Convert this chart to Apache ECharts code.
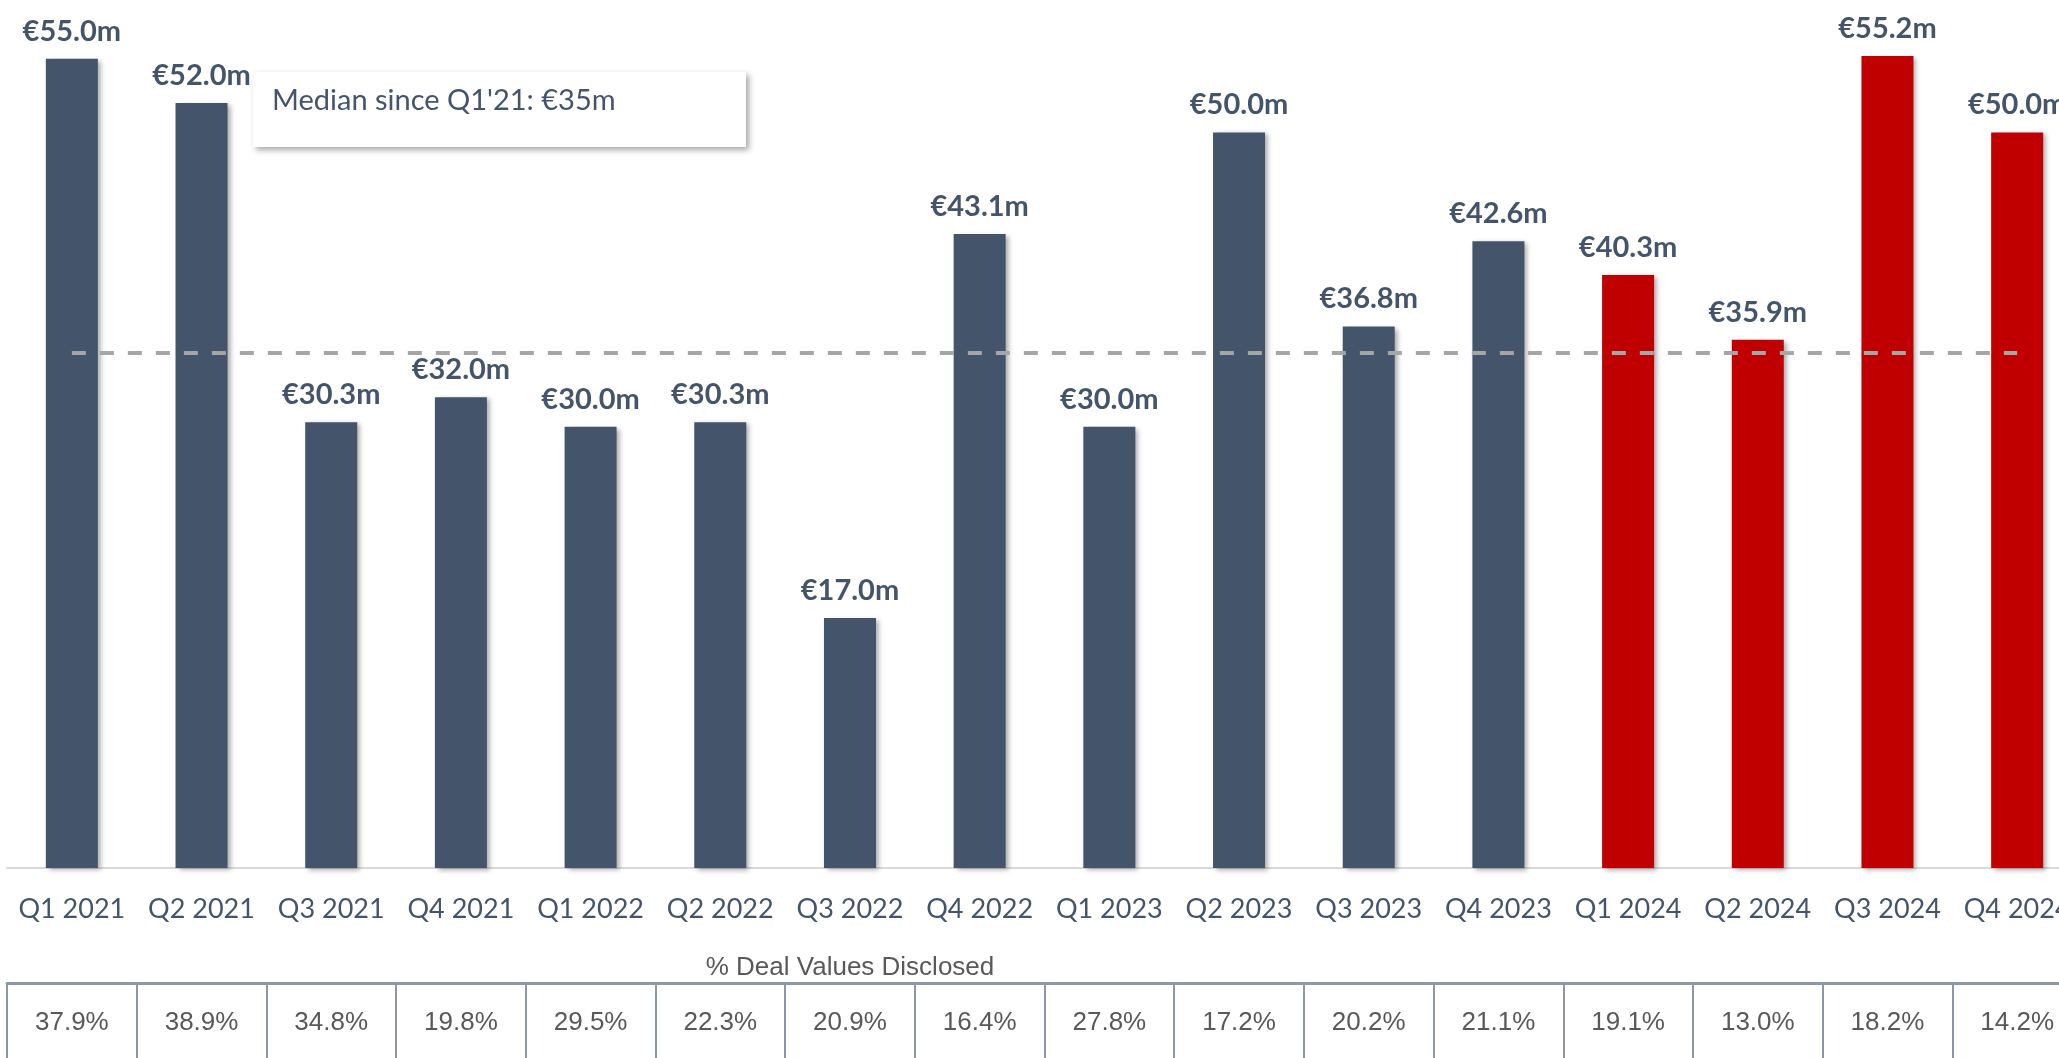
<!DOCTYPE html>
<html>
<head>
<meta charset="utf-8">
<script src="https://cdn.jsdelivr.net/npm/echarts@6/dist/echarts.min.js"></script>
<style>
html,body{margin:0;padding:0;background:#fff;overflow:hidden;width:2059px;height:1058px;}
#chart{width:2100px;height:1058px;}
</style>
</head>
<body>
<div id="chart"></div>
<script>
const categories = ['Q1 2021','Q2 2021','Q3 2021','Q4 2021','Q1 2022','Q2 2022','Q3 2022','Q4 2022','Q1 2023','Q2 2023','Q3 2023','Q4 2023','Q1 2024','Q2 2024','Q3 2024','Q4 2024'];
const medianValues = [55.0, 52.0, 30.3, 32.0, 30.0, 30.3, 17.0, 43.1, 30.0, 50.0, 36.8, 42.6, 40.3, 35.9, 55.2, 50.0];
const disclosedPct = ['37.9%','38.9%','34.8%','19.8%','29.5%','22.3%','20.9%','16.4%','27.8%','17.2%','20.2%','21.1%','19.1%','13.0%','18.2%','14.2%'];
const overallMedian = 35;
const highlightYear = '2024';
const tableTitle = '% Deal Values Disclosed';
const boxText = "Median since Q1'21: €35m";

const NAVY = '#44546a';
const RED = '#c00000';

const chart = echarts.init(document.getElementById('chart'));
chart.setOption({
  animation: false,
  backgroundColor: '#ffffff',
  grid: [
    {left: 7, width: 2075, top: 0, height: 868},
    {left: 7, width: 2075, top: 983, height: 120}
  ],
  xAxis: [
    {
      type: 'category', gridIndex: 0, data: categories,
      axisLine: {show: true, onZero: false, lineStyle: {color: '#d9d9d9', width: 2}},
      axisTick: {show: false},
      axisLabel: {interval: 0, color: NAVY, fontFamily: 'Lato', fontSize: 27, margin: 28}
    },
    {
      type: 'category', gridIndex: 1, data: categories, position: 'top',
      axisLine: {show: true, onZero: false, lineStyle: {color: '#8c98a6', width: 3}},
      axisTick: {show: true, interval: 0, inside: true, length: 120, lineStyle: {color: '#8c98a6', width: 2}},
      axisLabel: {
        interval: 0, inside: true, margin: 40, verticalAlign: 'middle',
        color: '#595959', fontFamily: 'Liberation Sans', fontSize: 26,
        formatter: (v, i) => disclosedPct[i]
      }
    }
  ],
  yAxis: [
    {type: 'value', gridIndex: 0, min: 0, max: 59, show: false, splitLine: {show: false}},
    {type: 'value', gridIndex: 1, min: 0, max: 1, show: false, splitLine: {show: false}}
  ],
  series: [{
    type: 'bar', xAxisIndex: 0, yAxisIndex: 0,
    data: medianValues,
    barWidth: 52,
    itemStyle: {
      color: p => (p.name.indexOf(highlightYear) >= 0 ? RED : NAVY),
      shadowColor: 'rgba(0,0,0,0.35)', shadowBlur: 5, shadowOffsetX: 3, shadowOffsetY: 2
    },
    label: {
      show: true, position: 'top', distance: 13,
      color: NAVY, fontFamily: 'Lato', fontWeight: 'bold', fontSize: 29,
      formatter: p => '€' + p.value.toFixed(1) + 'm'
    },
    markLine: {
      silent: true, symbol: 'none', animation: false,
      lineStyle: {color: '#a6a6a6', width: 4, type: [14, 14]},
      label: {show: false},
      data: [[{coord: [categories[0], overallMedian]}, {coord: [categories[categories.length - 1], overallMedian]}]]
    }
  }],
  graphic: [
    {
      type: 'rect', shape: {x: 253, y: 72, width: 493, height: 75},
      style: {fill: '#ffffff', shadowColor: 'rgba(0,0,0,0.35)', shadowBlur: 6, shadowOffsetX: 3, shadowOffsetY: 3},
      z: 100
    },
    {
      type: 'text', x: 272, y: 101, z: 101,
      style: {text: boxText, fill: NAVY, font: '29px Lato', verticalAlign: 'middle', align: 'left'}
    },
    {
      type: 'text', x: 850, y: 968, z: 101,
      style: {text: tableTitle, fill: '#595959', font: '26px "Liberation Sans"', verticalAlign: 'middle', align: 'center'}
    }
  ]
});
</script>
</body>
</html>
